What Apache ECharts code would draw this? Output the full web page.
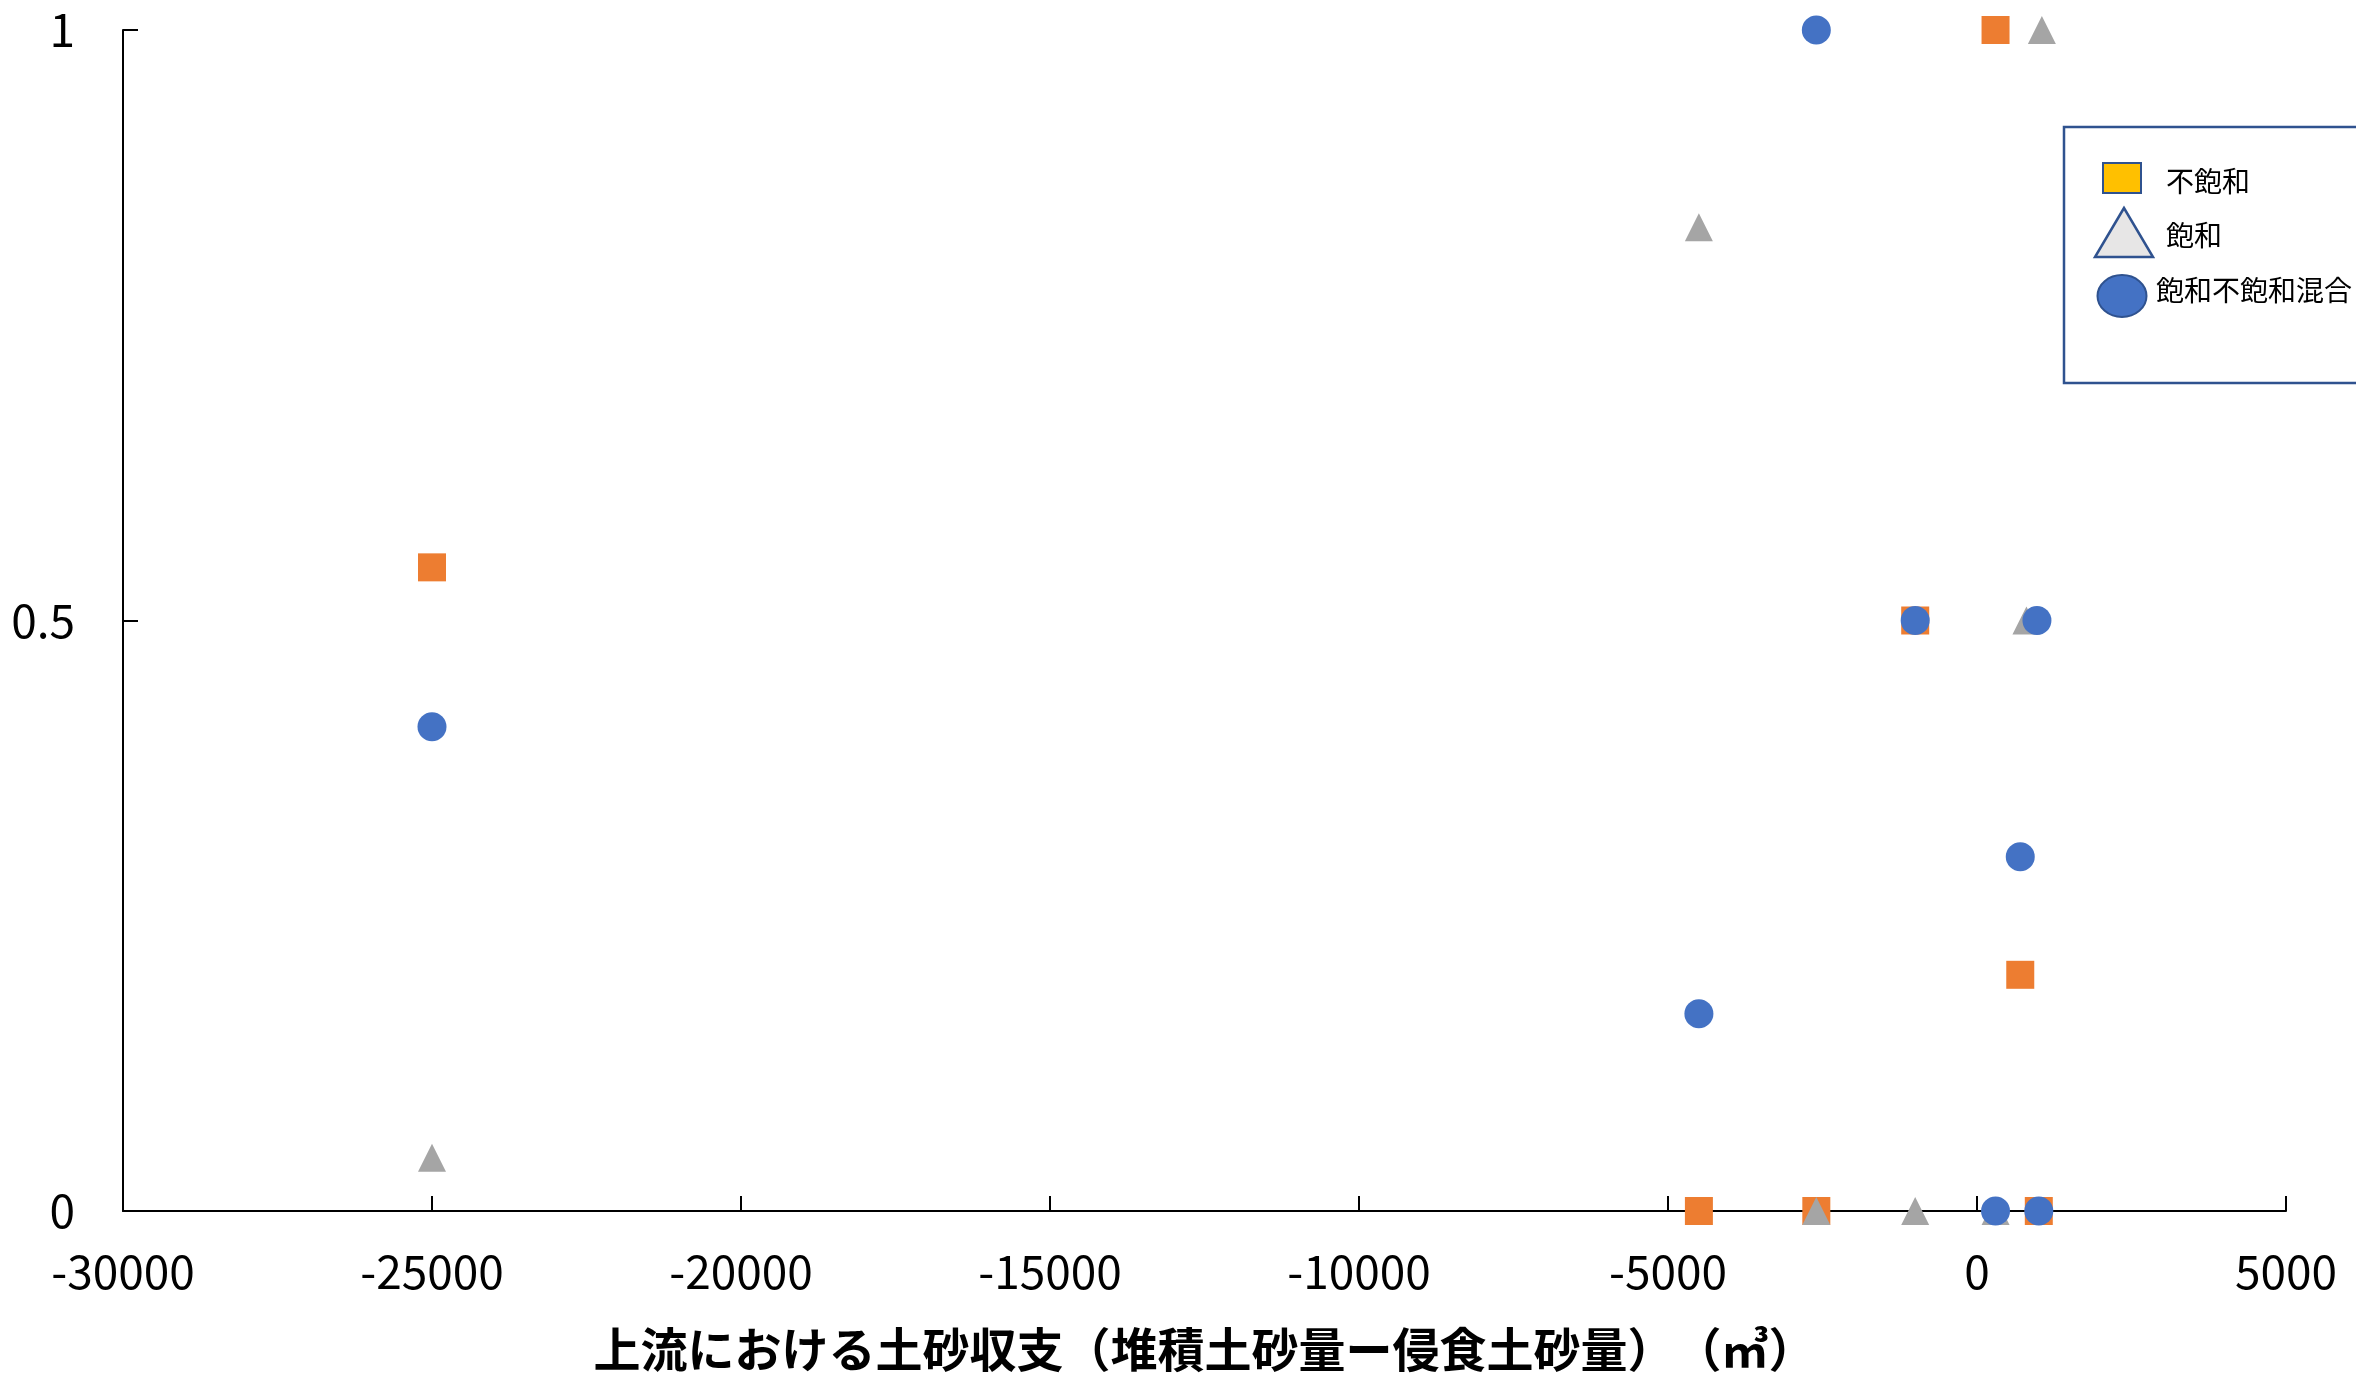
<!DOCTYPE html>
<html>
<head>
<meta charset="utf-8">
<script src="https://cdn.jsdelivr.net/npm/echarts@6/dist/echarts.min.js"></script>
<style>
    html, body { margin: 0; padding: 0; background: #fff; }
    #chart { width: 2356px; height: 1383px; }
</style>
</head>
<body>
<div id="chart"></div>
<script>
// series names
var seriesNames = ['不飽和', '飽和', '飽和不飽和混合'];

// [upstream sediment balance (m3), ratio]
var unsaturated = [[-25000, 0.545], [-4500, 0], [-2600, 0], [-1000, 0.5], [300, 1], [700, 0.2], [1000, 0]];
var saturated = [[-25000, 0.045], [-4500, 0.833], [-2600, 0], [-1000, 0], [300, 0], [800, 0.5], [1050, 1]];
var mixed = [[-25000, 0.41], [-4500, 0.167], [-2600, 1], [-1000, 0.5], [300, 0], [700, 0.3], [970, 0.5], [1000, 0]];

var xName = '上流における土砂収支（堆積土砂量ー侵食土砂量）　（㎥）';

var FONT = '"Noto Sans CJK JP", "Noto Sans", sans-serif';

var chart = echarts.init(document.getElementById('chart'));

var option = {
    backgroundColor: '#fff',
    animation: false,
    grid: {
        left: 123,
        right: 70,
        top: 30,
        bottom: 172
    },
    xAxis: {
        type: 'value',
        min: -30000,
        max: 5000,
        interval: 5000,
        name: xName,
        nameLocation: 'middle',
        nameGap: 115,
        nameTextStyle: {
            fontFamily: FONT,
            fontSize: 47,
            fontWeight: 'bold',
            color: '#000'
        },
        axisLine: { onZero: false, lineStyle: { color: '#000', width: 2 } },
        axisTick: { inside: true, length: 15, lineStyle: { color: '#000', width: 2 } },
        axisLabel: {
            fontFamily: FONT, fontSize: 46, color: '#000', margin: 38,
            formatter: function (v) { return String(v); }
        },
        splitLine: { show: false }
    },
    yAxis: {
        type: 'value',
        min: 0,
        max: 1,
        interval: 0.5,
        axisLine: { show: true, onZero: false, lineStyle: { color: '#000', width: 2 } },
        axisTick: { show: true, inside: true, length: 15, lineStyle: { color: '#000', width: 2 } },
        axisLabel: { fontFamily: FONT, fontSize: 46, color: '#000', margin: 48 },
        splitLine: { show: false }
    },
    series: [{
        name: seriesNames[0],
        type: 'scatter',
        symbol: 'rect',
        symbolSize: 28,
        clip: false,
        itemStyle: { color: '#ED7D31', opacity: 1 },
        data: unsaturated
    }, {
        name: seriesNames[1],
        type: 'scatter',
        symbol: 'triangle',
        symbolSize: [28, 28],
        clip: false,
        itemStyle: { color: '#A5A5A5', opacity: 1 },
        data: saturated
    }, {
        name: seriesNames[2],
        type: 'scatter',
        symbol: 'circle',
        symbolSize: 29,
        clip: false,
        itemStyle: { color: '#4472C4', opacity: 1 },
        data: mixed
    }],
    // legend box drawn as shapes (it sits partly off the right edge)
    graphic: [{
        type: 'rect',
        z: 10,
        shape: { x: 2064, y: 127, width: 400, height: 256 },
        style: { fill: '#fff', stroke: '#2F528F', lineWidth: 2.5 }
    }, {
        type: 'rect',
        z: 11,
        shape: { x: 2103, y: 163, width: 38, height: 30 },
        style: { fill: '#FFC000', stroke: '#2F528F', lineWidth: 2 }
    }, {
        type: 'polygon',
        z: 11,
        shape: { points: [[2124, 208], [2095, 257], [2153, 257]] },
        style: { fill: '#E7E6E6', stroke: '#2F528F', lineWidth: 2.5 }
    }, {
        type: 'ellipse',
        z: 11,
        shape: { cx: 2122, cy: 296, rx: 24.5, ry: 21 },
        style: { fill: '#4472C4', stroke: '#2F528F', lineWidth: 2 }
    }, {
        type: 'text',
        z: 11,
        style: { x: 2166, y: 181, text: seriesNames[0], font: '28px ' + FONT, fill: '#000', verticalAlign: 'middle' }
    }, {
        type: 'text',
        z: 11,
        style: { x: 2166, y: 235, text: seriesNames[1], font: '28px ' + FONT, fill: '#000', verticalAlign: 'middle' }
    }, {
        type: 'text',
        z: 11,
        style: { x: 2156, y: 290, text: seriesNames[2], font: '28px ' + FONT, fill: '#000', verticalAlign: 'middle' }
    }]
};

chart.setOption(option);
</script>
</body>
</html>
